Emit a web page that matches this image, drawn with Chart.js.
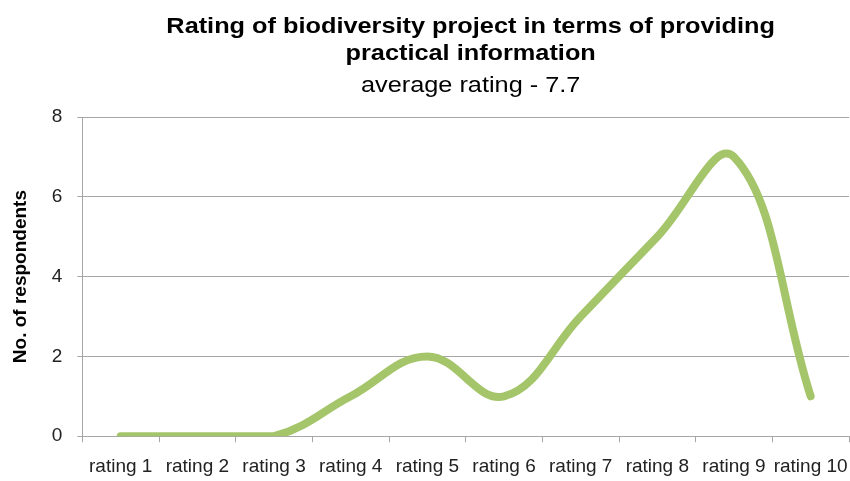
<!DOCTYPE html>
<html lang="en">
<head>
    <meta charset="UTF-8">
    <title>Rating of biodiversity project</title>
    <style>
        html, body { margin: 0; padding: 0; background: #fff; }
        #wrap { width: 850px; height: 481px; }
    </style>
</head>
<body>
    <div id="wrap"><canvas id="myChart"></canvas></div>
    <script src="https://cdn.jsdelivr.net/npm/chart.js"></script>
    <script>
        const categories = ['rating 1', 'rating 2', 'rating 3', 'rating 4', 'rating 5',
                            'rating 6', 'rating 7', 'rating 8', 'rating 9', 'rating 10'];
        const respondents = [0, 0, 0, 1, 2, 1, 3, 5, 7, 1];
        const titleLines = ['Rating of biodiversity project in terms of providing', 'practical information'];
        const subtitleText = 'average rating - 7.7';

        const fontFamily = '"Liberation Sans", Arial, sans-serif';

        // title drawn centred over the plot area (original text is a bit wide, hence the x-stretch)
        function stretchedText(ctx, text, x, y, font) {
            ctx.save();
            ctx.font = font;
            ctx.translate(x, y);
            ctx.scale(1.15, 1);
            ctx.fillText(text, 0, 0);
            ctx.restore();
        }

        const plotTitle = {
            id: 'plotTitle',
            afterDraw(chart) {
                const ctx = chart.ctx;
                const cx = (chart.chartArea.left + chart.chartArea.right) / 2 + 5;
                ctx.save();
                ctx.fillStyle = '#000';
                ctx.textAlign = 'center';
                ctx.textBaseline = 'alphabetic';
                stretchedText(ctx, titleLines[0], cx, 33, 'bold 22px ' + fontFamily);
                stretchedText(ctx, titleLines[1], cx, 60, 'bold 22px ' + fontFamily);
                stretchedText(ctx, subtitleText, cx, 92, '22px ' + fontFamily);
                ctx.restore();
            }
        };

        const gridGrey = '#a6a6a6';
        const ctx = document.getElementById('myChart').getContext('2d');
        new Chart(ctx, {
            type: 'line',
            data: {
                labels: categories,
                datasets: [{
                    data: respondents,
                    borderColor: '#a4c56a',
                    borderWidth: 8,
                    borderCapStyle: 'round',
                    borderJoinStyle: 'round',
                    tension: 0.4,
                    pointRadius: 0,
                    fill: false
                }]
            },
            options: {
                responsive: true,
                maintainAspectRatio: false,
                animation: false,
                layout: { padding: { top: 117, right: 1, bottom: -10, left: 9 } },
                plugins: {
                    legend: { display: false },
                    tooltip: { enabled: false }
                },
                scales: {
                    x: {
                        offset: true,
                        // labels sit inside the offset half-category, no extra edge padding needed
                        afterFit(scale) {
                            scale.paddingLeft = 0;
                            scale.paddingRight = 0;
                        },
                        grid: {
                            offset: true,
                            drawOnChartArea: false,
                            drawTicks: true,
                            tickLength: 6,
                            color: gridGrey
                        },
                        border: { color: gridGrey },
                        ticks: {
                            padding: 13,
                            maxRotation: 0,
                            autoSkip: false,
                            color: '#222',
                            font: { family: fontFamily, size: 19 }
                        }
                    },
                    y: {
                        min: 0,
                        max: 8,
                        ticks: {
                            stepSize: 2,
                            padding: 15,
                            color: '#222',
                            font: { family: fontFamily, size: 19 }
                        },
                        grid: { color: gridGrey, tickLength: 5 },
                        border: { color: gridGrey },
                        title: {
                            display: true,
                            text: 'No. of respondents',
                            color: '#000',
                            padding: { top: 0, bottom: 5 },
                            font: { family: fontFamily, size: 19, weight: 'bold' }
                        }
                    }
                }
            },
            plugins: [plotTitle]
        });
    </script>
</body>
</html>
